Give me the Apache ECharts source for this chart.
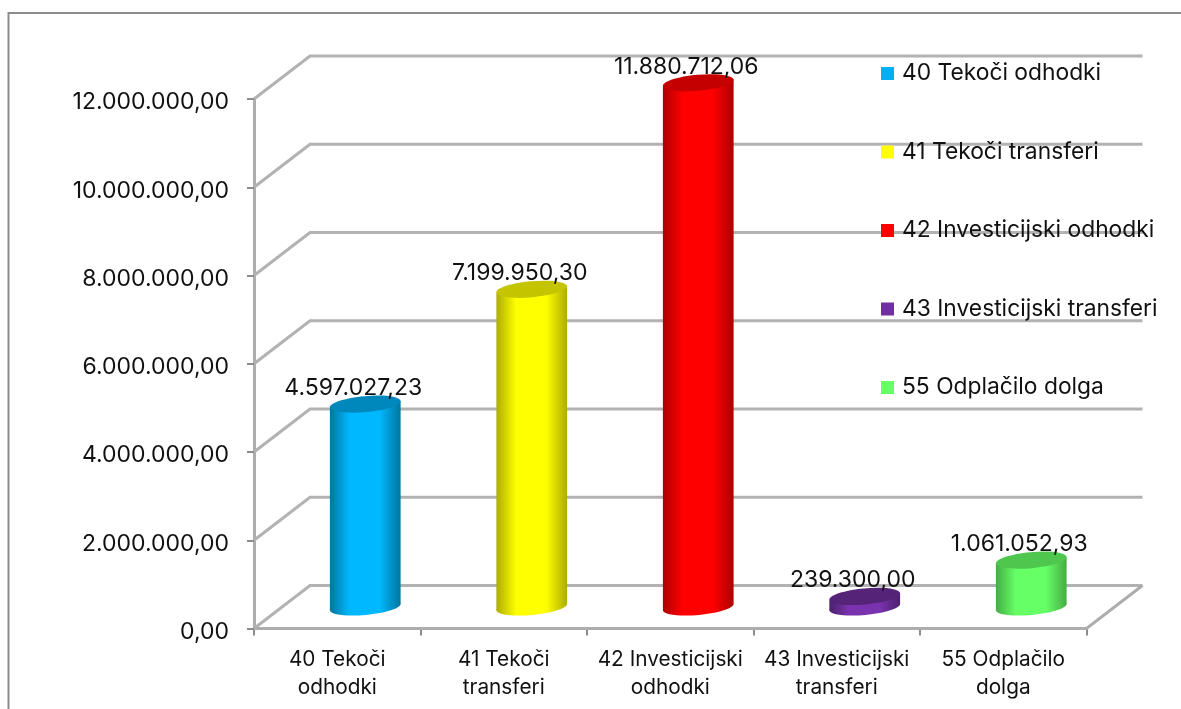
<!DOCTYPE html>
<html><head><meta charset="utf-8">
<style>html,body{margin:0;padding:0;background:#fff}#c{width:1181px;height:709px}</style>
<script src="https://cdn.jsdelivr.net/npm/echarts@6/dist/echarts.min.js"></script>
</head><body><div id="c"></div>
<script>
const categories = ['40 Tekoči odhodki','41 Tekoči transferi','42 Investicijski odhodki','43 Investicijski transferi','55 Odplačilo dolga'];
const values = [4597027.23, 7199950.30, 11880712.06, 239300.00, 1061052.93];
const wallTicks = [0, 2000000, 4000000, 6000000, 8000000, 10000000, 12000000];
const mainColors = ['#00B8FF','#FFFF00','#FF0000','#7A33AE','#66FF66'];
const edgeColors = ['#00769F','#ADAD00','#AD0000','#4C206E','#45AD45'];
const capColors  = ['#0088BC','#C4C400','#C40000','#552479','#4FC74F'];
const legendColors = ['#00B0F0','#FFFF00','#FF0000','#7030A0','#66FF66'];

const FONT = 'Inter';
const DX = 56, DY = -43, BAR_RX = 35.5, CAP_RY = 8, TILT = 0.09;

function fmt(v){
  const [a,b] = v.toFixed(2).split('.');
  return a.replace(/\B(?=(\d{3})+$)/g,'.') + ',' + b;
}
function bodyGrad(i){
  return new echarts.graphic.LinearGradient(0,0,1,0,[
    {offset:0,color:edgeColors[i]},{offset:0.28,color:mainColors[i]},
    {offset:0.7,color:mainColors[i]},{offset:1,color:edgeColors[i]}]);
}
function renderWall(params, api){
  const r = params.coordSys;
  const y = api.coord([0, api.value(0)])[1];
  const x0 = r.x, x1 = r.x + r.width;
  const isFloor = api.value(0) === 0;
  const children = [{type:'polyline', shape:{points:[[x0,y],[x0+DX,y+DY],[x1+DX,y+DY]]},
    style:{fill:null,stroke:'#B2B2B2',lineWidth:3}}];
  if (isFloor) {
    children.push({type:'polyline', shape:{points:[[x0,y],[x1,y],[x1+DX,y+DY]]},
      style:{fill:null,stroke:'#ADADAD',lineWidth:3}});
  }
  return {type:'group', children};
}
function renderBar(i){
  return function(params, api){
    const base = api.coord([api.value(0), 0]);
    const top = api.coord([api.value(0), api.value(1)]);
    const cx = base[0] + DX/2, by = base[1] + DY/2, ty = top[1] + DY/2;
    const dy = BAR_RX*Math.sin(TILT), dx = BAR_RX*Math.cos(TILT);
    return {type:'group', children:[
      {type:'ellipse', x:cx, y:by, rotation:TILT, shape:{cx:0,cy:0,rx:BAR_RX,ry:CAP_RY}, style:{fill:bodyGrad(i)}},
      {type:'polygon', shape:{points:[[cx-dx,ty+dy],[cx+dx,ty-dy],[cx+dx,by-dy],[cx-dx,by+dy]]}, style:{fill:bodyGrad(i)}},
      {type:'ellipse', x:cx, y:ty, rotation:TILT, shape:{cx:0,cy:0,rx:BAR_RX,ry:CAP_RY}, style:{fill:capColors[i]}},
      {type:'text', x:cx-12, y:ty-16, style:{text:fmt(api.value(1)),fill:'#111',font:'23px '+FONT,textAlign:'center',textVerticalAlign:'middle'}}
    ]};
  };
}
const chart = echarts.init(document.getElementById('c'), null, {renderer:'canvas'});
chart.setOption({
  animation:false,
  backgroundColor:'#fff',
  grid:{left:254,right:94.5,top:99,bottom:80.5,containLabel:false},
  graphic:[{type:'polyline',silent:true,shape:{points:[[8.5,709],[8.5,13],[1181,13]]},style:{fill:null,stroke:'#8C8C8C',lineWidth:2}}],
  legend:{
    orient:'vertical',left:881,top:59,padding:0,itemWidth:13,itemHeight:13,itemGap:49.5,selectedMode:false,
    data:categories.map((n,i)=>({name:n,icon:'rect',itemStyle:{color:legendColors[i]}})),
    textStyle:{fontFamily:FONT,fontSize:22.8,color:'#111',lineHeight:26,padding:[3,0,0,3]}
  },
  xAxis:{type:'category',data:categories,boundaryGap:true,
    axisLine:{lineStyle:{color:'#ADADAD',width:3}},
    axisTick:{show:true,alignWithLabel:false,length:7,lineStyle:{color:'#8C8C8C',width:2}},
    axisLabel:{interval:0,margin:17,fontFamily:FONT,fontSize:20.8,color:'#111',lineHeight:28,
      formatter:s=>{const k=s.lastIndexOf(' ');return s.slice(0,k)+'\n'+s.slice(k+1);}}
  },
  yAxis:{type:'value',min:0,max:12000000,interval:2000000,splitLine:{show:false},
    axisLine:{show:true,lineStyle:{color:'#ADADAD',width:3}},
    axisTick:{show:true,length:7,lineStyle:{color:'#8C8C8C',width:2}},
    axisLabel:{margin:25,fontFamily:FONT,fontSize:23,color:'#111',verticalAlign:'top',lineHeight:7,formatter:v=>fmt(v)}
  },
  series:[
    {type:'custom',name:'walls',silent:true,z:1,data:wallTicks.map(v=>[v]),encode:{y:0},renderItem:renderWall},
    ...categories.map((n,i)=>({type:'custom',name:n,z:3,silent:true,
      itemStyle:{color:legendColors[i]},
      data:[[i,values[i]]],encode:{x:0,y:1},renderItem:renderBar(i)}))
  ]
});
</script></body></html>
